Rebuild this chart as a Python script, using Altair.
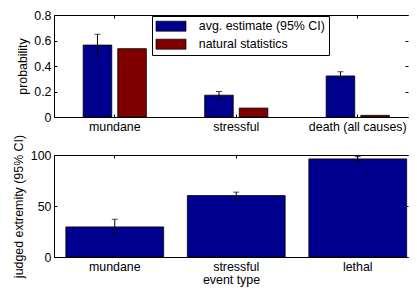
import altair as alt
import pandas as pd

# ---- data ----
categories = ["mundane", "stressful", "death (all causes)"]
series = ["avg. estimate (95% CI)", "natural statistics"]
est_mean = [0.564, 0.171, 0.322]
est_lo = [0.48, 0.138, 0.29]
est_hi = [0.649, 0.20, 0.355]
natural = [0.536, 0.07, 0.013]

event_types = ["mundane", "stressful", "lethal"]
ext_mean = [29.5, 60.2, 96.2]
ext_lo = [23.2, 56.7, 93.7]
ext_hi = [37.0, 63.6, 98.4]

prob_ticks = [0, 0.2, 0.4, 0.6, 0.8]
ext_ticks = [0, 50, 100]

BLUE = "#00008f"
RED = "#800000"
FONT = "Liberation Sans"
FS = 12.4

top_bars = pd.DataFrame({
    "category": categories * 2,
    "series": [series[0]] * 3 + [series[1]] * 3,
    "value": est_mean + natural,
})
top_err = pd.DataFrame({
    "category": categories,
    "series": [series[0]] * 3,
    "lo": est_lo,
    "hi": est_hi,
})
bot_bars = pd.DataFrame({
    "event": event_types,
    "value": ext_mean,
    "lo": ext_lo,
    "hi": ext_hi,
})

# the reference axes box runs past the right edge of the picture; the plot
# is narrower here but the band scale is shifted (align) so the bars keep
# the same positions and the box is simply cut on the right.
W, H = 354, 102


def tick_axes(data, xfield, sort, xscale, yscale, ticks):
    """Invisible layers that only carry MATLAB-style inward ticks and the top spine."""
    base = alt.Chart(data).mark_point(opacity=0)
    a = base.encode(
        x=alt.X(xfield, sort=sort, scale=xscale,
                axis=alt.Axis(orient="bottom", offset=-3, tickSize=3, labels=False,
                              domain=False, title=None, bandPosition=0.5)),
        y=alt.Y("value:Q", scale=yscale,
                axis=alt.Axis(orient="left", offset=-3, tickSize=3, labels=False,
                              domain=False, title=None, values=ticks)),
    )
    b = base.encode(
        x=alt.X(xfield, sort=sort, scale=xscale,
                axis=alt.Axis(orient="top", offset=-3, tickSize=3, labels=False,
                              domain=False, title=None, bandPosition=0.5)),
        y=alt.Y("value:Q", scale=yscale,
                axis=alt.Axis(orient="right", offset=-3, tickSize=3, labels=False,
                              domain=False, title=None, values=ticks)),
    )
    c = base.encode(
        x=alt.X(xfield, sort=sort, scale=xscale,
                axis=alt.Axis(orient="top", ticks=False, labels=False,
                              domain=True, title=None)),
        y=alt.Y("value:Q", scale=yscale, axis=None),
    )
    return [a, b, c]


def error_layers(data, xfield, sort, xscale, yscale, offset=None):
    enc = dict(x=alt.X(xfield, sort=sort, scale=xscale, axis=None))
    if offset is not None:
        enc["xOffset"] = offset
    rule = alt.Chart(data).mark_rule(color="black", strokeWidth=1).encode(
        y=alt.Y("lo:Q", scale=yscale, axis=None), y2="hi:Q", **enc)
    lo = alt.Chart(data).mark_tick(color="black", size=6, thickness=1, orient="horizontal").encode(
        y=alt.Y("lo:Q", scale=yscale, axis=None), **enc)
    hi = alt.Chart(data).mark_tick(color="black", size=6, thickness=1, orient="horizontal").encode(
        y=alt.Y("hi:Q", scale=yscale, axis=None), **enc)
    return [rule, lo, hi]


# ---- top panel ----
xs_top = alt.Scale(domain=categories, paddingInner=0.48, paddingOuter=0.1968, align=0.61)
ys_top = alt.Scale(domain=[0, 0.8], nice=False)
xo_scale = alt.Scale(domain=series, paddingInner=0.174, paddingOuter=0)

bars_top = alt.Chart(top_bars).mark_bar(stroke="black", strokeWidth=0.8).encode(
    x=alt.X("category:N", sort=categories, scale=xs_top,
            axis=alt.Axis(orient="bottom", title=None, labelAngle=0, ticks=False,
                          labelPadding=3, domain=True)),
    xOffset=alt.XOffset("series:N", sort=series, scale=xo_scale),
    y=alt.Y("value:Q", scale=ys_top,
            axis=alt.Axis(orient="left", title="probability", values=prob_ticks,
                          format="~g", ticks=False, labelPadding=3, titlePadding=4)),
    color=alt.Color("series:N", sort=series,
                    scale=alt.Scale(domain=series, range=[BLUE, RED]),
                    legend=alt.Legend(title=None, orient="none", legendX=98, legendY=1,
                                      symbolType="M-3,-1H3V1H-3Z", symbolSize=100,
                                      symbolStrokeColor="black", symbolStrokeWidth=0.7,
                                      symbolOffset=8.8, labelOffset=21.6, labelFontSize=FS,
                                      labelFont=FONT, labelColor="black", rowPadding=4,
                                      padding=4, strokeColor="black", fillColor="white",
                                      symbolOpacity=1)),
)

top = alt.layer(
    bars_top,
    *error_layers(top_err, "category:N", categories, xs_top, ys_top,
                  offset=alt.XOffset("series:N", sort=series, scale=xo_scale)),
    *tick_axes(top_bars, "category:N", categories, xs_top, ys_top, prob_ticks)
).resolve_axis(x="independent", y="independent").properties(width=W, height=H)

# ---- bottom panel ----
xs_bot = alt.Scale(domain=event_types, paddingInner=0.195, paddingOuter=0.0543, align=0.898)
ys_bot = alt.Scale(domain=[0, 100], nice=False)

bars_bot = alt.Chart(bot_bars).mark_bar(stroke="black", strokeWidth=0.8, color=BLUE).encode(
    x=alt.X("event:N", sort=event_types, scale=xs_bot,
            axis=alt.Axis(orient="bottom", title="event type", labelAngle=0, ticks=False,
                          labelPadding=3, titlePadding=1.5, domain=True)),
    y=alt.Y("value:Q", scale=ys_bot,
            axis=alt.Axis(orient="left", title="judged extremity (95% CI)", values=ext_ticks,
                          ticks=False, labelPadding=3, titlePadding=5)),
)

bottom = alt.layer(
    bars_bot,
    *error_layers(bot_bars, "event:N", event_types, xs_bot, ys_bot),
    *tick_axes(bot_bars, "event:N", event_types, xs_bot, ys_bot, ext_ticks)
).resolve_axis(x="independent", y="independent").properties(width=W, height=H)

chart = alt.vconcat(top, bottom, spacing=38, bounds="flush").resolve_legend(
    color="independent"
).resolve_scale(color="independent").properties(
    padding={"left": 4, "top": 1, "right": 0, "bottom": 0}
).configure(
    font=FONT,
).configure_view(
    stroke=None,
).configure_axis(
    labelFont=FONT, titleFont=FONT, labelFontSize=FS, titleFontSize=FS,
    labelColor="black", titleColor="black", titleFontWeight="normal",
    domainColor="black", tickColor="black", domainWidth=1, tickWidth=1, grid=False,
)

chart.save("out.html", embed_options={"renderer": "svg", "actions": False})
